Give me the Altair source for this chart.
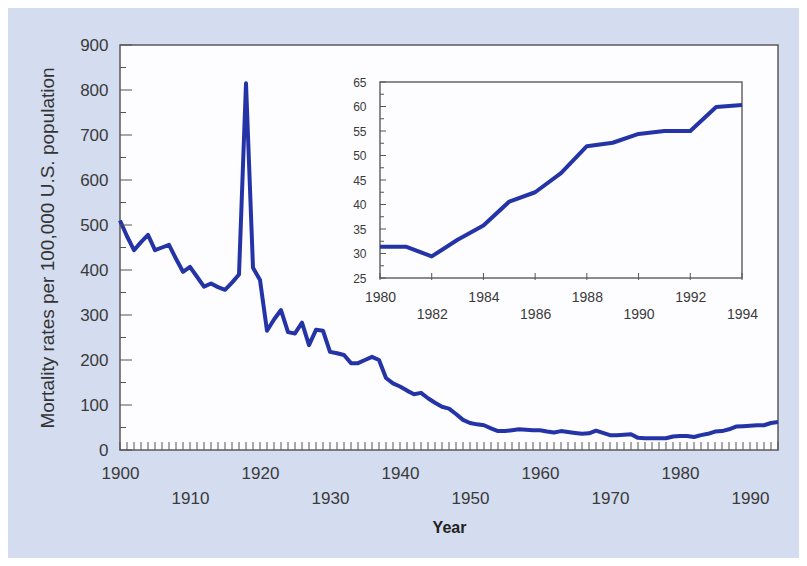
import altair as alt
import pandas as pd

# ---------------- data ----------------
YEARS = list(range(1900, 1995))
RATES = [
    510, 475, 444, 462, 478, 444, 450, 456, 425, 396,   # 1900-1909
    407, 385, 363, 370, 362, 356, 372, 390, 815, 405,   # 1910-1919
    378, 265, 290, 311, 262, 259, 283, 233, 267, 265,   # 1920-1929
    218, 215, 211, 193, 193, 200, 207, 200, 160, 148,   # 1930-1939
    141, 132, 124, 127, 115, 105, 96, 92, 80, 67,       # 1940-1949
    60, 57, 55, 48, 42, 42, 44, 46, 45, 44,             # 1950-1959
    44, 41, 39, 42, 40, 38, 36, 37, 43, 38,             # 1960-1969
    33, 33, 34, 35, 27, 26, 26, 26, 26, 30,             # 1970-1979
    31, 31, 29, 33, 36, 41, 42, 46, 52, 53,             # 1980-1989
    54, 55, 55, 60, 62,                                 # 1990-1994
]
INSET_YEARS = list(range(1980, 1995))
INSET_RATES = [31.4, 31.4, 29.4, 32.8, 35.7, 40.6, 42.5, 46.4, 51.9, 52.6,
               54.4, 55.0, 55.0, 59.9, 60.3]

MAIN_X_DOMAIN = [1900, 1994]
MAIN_Y_DOMAIN = [0, 900]
MAIN_X_LABELS_ROW1 = [1900, 1920, 1940, 1960, 1980]
MAIN_X_LABELS_ROW2 = [1910, 1930, 1950, 1970, 1990]
MAIN_Y_LABELS = list(range(0, 901, 100))
MAIN_Y_MINOR = list(range(50, 900, 100))

INSET_X_DOMAIN = [1980, 1994]
INSET_Y_DOMAIN = [25, 65]
INSET_X_LABELS_ROW1 = [1980, 1984, 1988, 1992]
INSET_X_LABELS_ROW2 = [1982, 1986, 1990, 1994]
INSET_X_TICKS = list(range(1980, 1995, 2))
INSET_Y_LABELS = list(range(25, 66, 5))
INSET_Y_MINOR = [v + 2.5 for v in range(25, 65, 5)]

# ---------------- styling ----------------
W, H = 658, 405
BLUE = "#2434a6"
GRAY = "#555555"
LABEL = "#3a3a3a"
FONT = "Liberation Sans"
BG = "#d4dcef"

# inset placement inside main plot (pixels)
IX0, IX1 = 260, 622
IY0, IY1 = 233, 37


def xaxis(values, padding, title=None, offset=0, size=17, **kw):
    return alt.Axis(
        orient="bottom", offset=offset, values=values, format="d", ticks=False,
        domain=False, grid=False, labelFlush=False, labelPadding=padding,
        labelFont=FONT, labelFontSize=size, labelColor=LABEL, title=title, **kw)


def main_x():
    return alt.Scale(domain=MAIN_X_DOMAIN, nice=False, zero=False)


def main_y():
    return alt.Scale(domain=MAIN_Y_DOMAIN, nice=False, zero=False)


def inset_x():
    return alt.Scale(domain=INSET_X_DOMAIN, range=[IX0, IX1], nice=False, zero=False)


def inset_y():
    return alt.Scale(domain=INSET_Y_DOMAIN, range=[IY0, IY1], nice=False, zero=False)


main_df = pd.DataFrame({"year": YEARS, "rate": RATES})
inset_df = pd.DataFrame({"year": INSET_YEARS, "rate": INSET_RATES})

# ---------------- main chart ----------------
main_line = alt.Chart(main_df).mark_line(
    color=BLUE, strokeWidth=4, strokeJoin="round"
).encode(
    x=alt.X("year:Q", scale=main_x(), axis=xaxis(
        MAIN_X_LABELS_ROW1, 15, title="Year", titleFont=FONT, titleFontSize=16,
        titleFontWeight="bold", titleColor="#222222", titlePadding=38)),
    y=alt.Y("rate:Q", scale=main_y(), axis=alt.Axis(
        orient="left", values=MAIN_Y_LABELS, ticks=False, domain=False, grid=False,
        labelPadding=12, labelFont=FONT, labelFontSize=17, labelColor=LABEL,
        title="Mortality rates per 100,000 U.S. population", titleFont=FONT,
        titleFontSize=19, titleFontWeight="normal", titleColor="#333333",
        titlePadding=22)),
)

xtick_df = pd.DataFrame({"year": YEARS})
main_xticks = alt.Chart(xtick_df).mark_rule(color=GRAY, strokeWidth=1).encode(
    x=alt.X("year:Q", scale=main_x(), axis=xaxis(MAIN_X_LABELS_ROW2, 40)),
    y=alt.value(H), y2=alt.value(H - 8),
)

ymaj_df = pd.DataFrame({"v": MAIN_Y_LABELS})
ymin_df = pd.DataFrame({"v": MAIN_Y_MINOR})
main_ymaj = alt.Chart(ymaj_df).mark_rule(color=GRAY, strokeWidth=1).encode(
    y=alt.Y("v:Q", scale=main_y(), axis=None), x=alt.value(0), x2=alt.value(12))
main_ymin = alt.Chart(ymin_df).mark_rule(color=GRAY, strokeWidth=1).encode(
    y=alt.Y("v:Q", scale=main_y(), axis=None), x=alt.value(0), x2=alt.value(6))

# ---------------- inset ----------------
frame_df = pd.DataFrame({"x0": [INSET_X_DOMAIN[0]], "x1": [INSET_X_DOMAIN[1]],
                         "y0": [INSET_Y_DOMAIN[0]], "y1": [INSET_Y_DOMAIN[1]]})
inset_frame = alt.Chart(frame_df).mark_rect(
    fill="#fdfdff", stroke="#666666", strokeWidth=1.5
).encode(
    x=alt.X("x0:Q", scale=inset_x(), axis=None), x2="x1:Q",
    y=alt.Y("y0:Q", scale=inset_y(), axis=None), y2="y1:Q",
)

iym_df = pd.DataFrame({"v": INSET_Y_LABELS})
iyn_df = pd.DataFrame({"v": INSET_Y_MINOR})
inset_ymaj = alt.Chart(iym_df).mark_rule(color=GRAY, strokeWidth=1).encode(
    y=alt.Y("v:Q", scale=inset_y(), axis=None), x=alt.value(IX0), x2=alt.value(IX0 + 6))
inset_ymin = alt.Chart(iyn_df).mark_rule(color=GRAY, strokeWidth=1).encode(
    y=alt.Y("v:Q", scale=inset_y(), axis=None), x=alt.value(IX0), x2=alt.value(IX0 + 4))

ixt_df = pd.DataFrame({"year": INSET_X_TICKS})
inset_xticks = alt.Chart(ixt_df).mark_rule(color=GRAY, strokeWidth=1).encode(
    x=alt.X("year:Q", scale=inset_x(), axis=xaxis(
        INSET_X_LABELS_ROW2, 29, offset=-(H - IY0), size=14)),
    y=alt.value(IY0 + 2), y2=alt.value(IY0 - 5),
)

inset_line = alt.Chart(inset_df).mark_line(
    color=BLUE, strokeWidth=4, strokeJoin="round"
).encode(
    x=alt.X("year:Q", scale=inset_x(), axis=xaxis(
        INSET_X_LABELS_ROW1, 12, offset=-(H - IY0), size=14)),
    y=alt.Y("rate:Q", scale=inset_y(), axis=alt.Axis(
        orient="left", offset=-IX0, values=INSET_Y_LABELS, ticks=False,
        domain=False, grid=False, title=None, labelPadding=14,
        labelFont=FONT, labelFontSize=12, labelColor=LABEL)),
)

chart = alt.layer(
    main_line, main_xticks, main_ymaj, main_ymin,
    inset_frame, inset_ymaj, inset_ymin, inset_xticks, inset_line,
).resolve_scale(
    x="independent", y="independent"
).properties(
    width=W, height=H,
    autosize=alt.AutoSizeParams(type="none"),
    padding={"left": 112, "top": 37, "right": 21, "bottom": 108},
    background=BG,
).configure_view(
    stroke="#5a5a5a", strokeWidth=1.5, fill="#fdfdff"
)

chart.save("out.html", embed_options={"renderer": "svg", "actions": False})
